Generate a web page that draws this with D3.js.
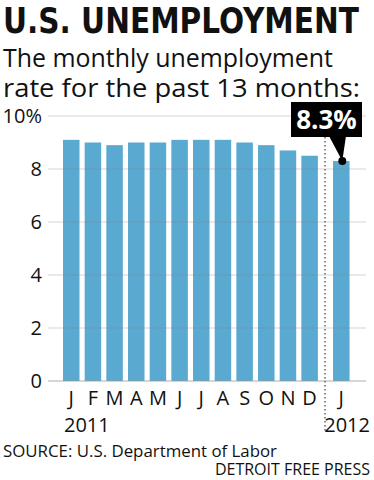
<!DOCTYPE html>
<html>
<head>
<meta charset="utf-8">
<title>U.S. Unemployment</title>
<style>
  body { margin: 0; background: #fff; }
  svg { display: block; }
  text { font-family: "Open Sans", "Noto Sans", sans-serif; fill: #111; }
</style>
</head>
<body>
<div id="chart"></div>
<script src="https://cdn.jsdelivr.net/npm/d3@7"></script>
<script>
// data
var months = ["J", "F", "M", "A", "M", "J", "J", "A", "S", "O", "N", "D", "J"];
var rates = [9.1, 9.0, 8.9, 9.0, 9.0, 9.1, 9.1, 9.1, 9.0, 8.9, 8.7, 8.5, 8.3];
var yTicks = [0, 2, 4, 6, 8, 10];
var years = ["2011", "2012"];
var calloutLabel = "8.3%";

var W = 374, H = 480;
var svg = d3.select("#chart").append("svg").attr("width", W).attr("height", H);

// title + subtitle
svg.append("text")
  .attr("x", 3).attr("y", 33)
  .attr("textLength", 356).attr("lengthAdjust", "spacingAndGlyphs")
  .style("font-family", "'DejaVu Sans Condensed', 'Liberation Sans Narrow', sans-serif")
  .style("font-stretch", "condensed")
  .style("font-weight", "bold").style("font-size", "35px")
  .text("U.S. UNEMPLOYMENT");

svg.append("text")
  .attr("x", 3).attr("y", 67)
  .attr("textLength", 330).attr("lengthAdjust", "spacingAndGlyphs")
  .style("font-size", "26px")
  .text("The monthly unemployment");
svg.append("text")
  .attr("x", 3).attr("y", 97)
  .attr("textLength", 357).attr("lengthAdjust", "spacingAndGlyphs")
  .style("font-size", "26px")
  .text("rate for the past 13 months:");

// scales
var y = d3.scaleLinear().domain([0, 10]).range([381, 116]);
// 12 months of 2011, then a wider gap before Jan 2012
var pitch = 21.67;
function xPos(i) { return 63 + i * pitch + (i === 12 ? 10 : 0); }
var barW = 16.5;

var g = svg.append("g");

// bars
g.selectAll("rect.bar")
  .data(rates)
  .enter().append("rect")
  .attr("class", "bar")
  .attr("x", function (d, i) { return xPos(i); })
  .attr("y", function (d) { return y(d); })
  .attr("width", barW)
  .attr("height", function (d) { return y(0) - y(d); })
  .attr("fill", "#5aa9d1");

// gridlines on top (show through bars)
g.selectAll("line.grid")
  .data(yTicks)
  .enter().append("line")
  .attr("x1", 48).attr("x2", 366)
  .attr("y1", function (d) { return y(d); })
  .attr("y2", function (d) { return y(d); })
  .attr("stroke", function (d) { return d === 0 ? "#999" : "#888"; })
  .attr("stroke-opacity", function (d) { return d === 0 ? 0.8 : 0.35; })
  .attr("stroke-width", 1);

// y tick labels
g.selectAll("text.ytick")
  .data(yTicks)
  .enter().append("text")
  .attr("x", 42)
  .attr("y", function (d) { return y(d) + 7; })
  .attr("text-anchor", "end")
  .style("font-size", "20px")
  .text(function (d) { return d === 10 ? "10%" : d; });

// dotted year separator
var sepX = 325;
g.append("line")
  .attr("x1", sepX).attr("x2", sepX)
  .attr("y1", 137).attr("y2", 432)
  .attr("stroke", "#666")
  .attr("stroke-width", 1.5)
  .attr("stroke-dasharray", "1.5,2.5");

// month labels
g.selectAll("text.month")
  .data(months)
  .enter().append("text")
  .attr("x", function (d, i) { return xPos(i) + barW / 2; })
  .attr("y", 405)
  .attr("text-anchor", "middle")
  .style("font-size", "20px")
  .text(function (d) { return d; });

// years
svg.append("text").attr("x", 64).attr("y", 432)
  .style("font-size", "20px").text(years[0]);
svg.append("text").attr("x", 370).attr("y", 432)
  .attr("text-anchor", "end")
  .style("font-size", "20px").text(years[1]);

// callout on last bar
var last = rates.length - 1;
var cx = xPos(last) + barW / 2 + 1, cy = y(rates[last]);
svg.append("path")
  .attr("d", "M" + 329 + "," + 136 + " L" + 346 + "," + 136 + " L" + cx + "," + cy + " Z")
  .attr("fill", "#000");
svg.append("circle").attr("cx", cx).attr("cy", cy).attr("r", 4).attr("fill", "#000");
svg.append("rect")
  .attr("x", 291).attr("y", 102).attr("width", 71).attr("height", 35)
  .attr("fill", "#000");
svg.append("text")
  .attr("x", 326.5).attr("y", 129)
  .attr("text-anchor", "middle")
  .style("fill", "#fff").style("font-weight", "bold").style("font-size", "26px")
  .text(calloutLabel);

// footer
svg.append("text").attr("x", 3).attr("y", 457)
  .attr("textLength", 274).attr("lengthAdjust", "spacingAndGlyphs")
  .style("font-size", "16px")
  .text("SOURCE: U.S. Department of Labor");
svg.append("text").attr("x", 370).attr("y", 475)
  .attr("text-anchor", "end")
  .style("font-size", "16px")
  .text("DETROIT FREE PRESS");
</script>
</body>
</html>
